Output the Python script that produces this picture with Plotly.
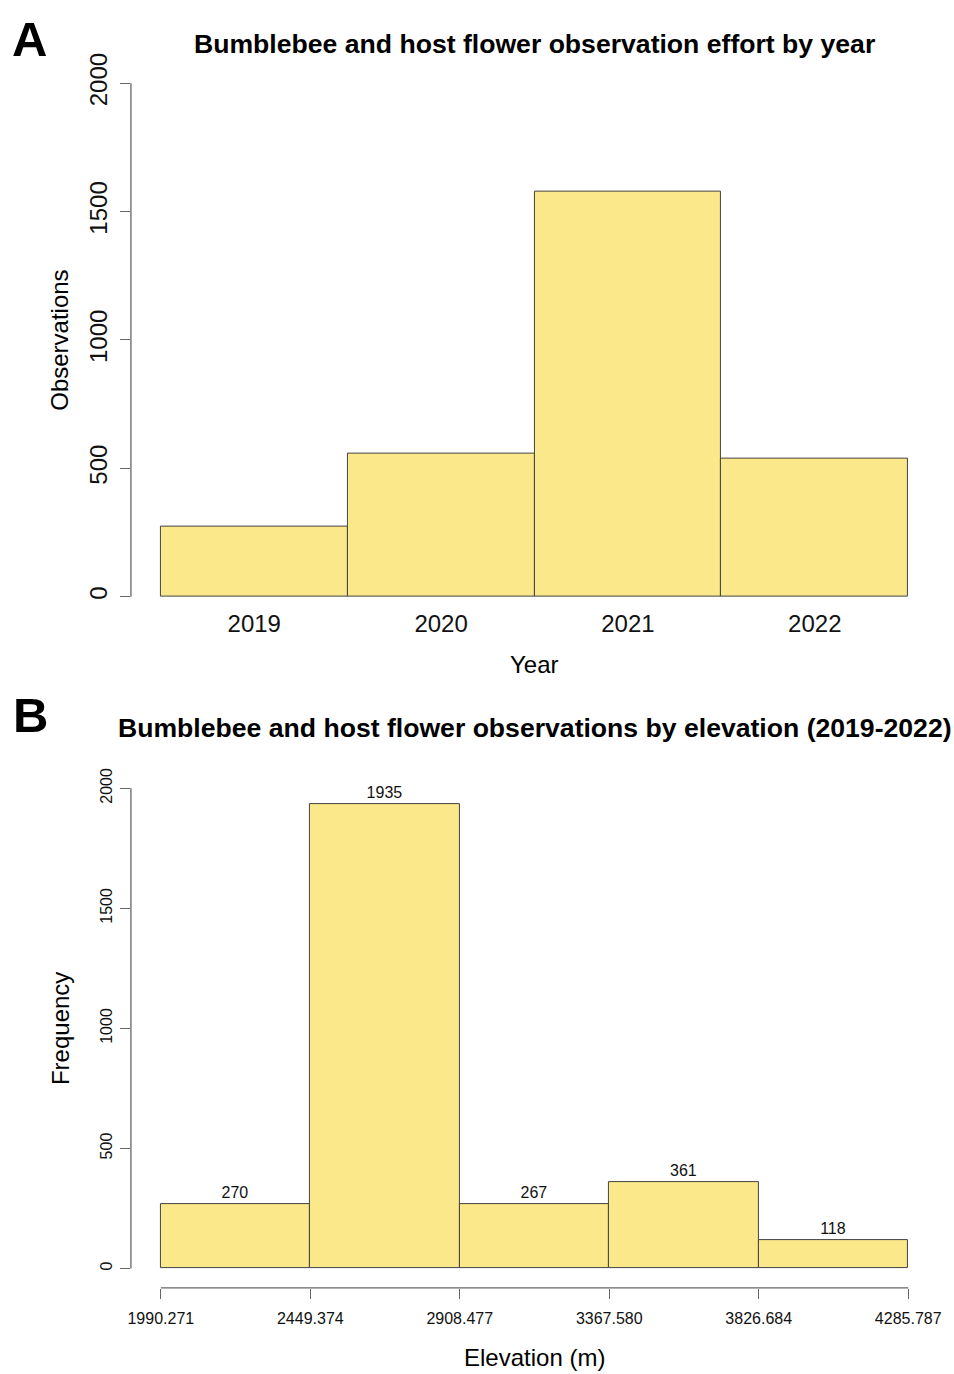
import plotly.graph_objects as go

# Panel A: observations per year
years = [2019, 2020, 2021, 2022]
obs_per_year = [274, 556, 1576, 539]

# Panel B: elevation histogram (bin breaks and counts)
elev_breaks = [1990.271, 2449.374, 2908.477, 3367.580, 3826.684, 4285.787]
elev_counts = [270, 1935, 267, 361, 118]

y_ticks = [0, 500, 1000, 1500, 2000]

W, H = 954, 1374
FILL = "#FAE88A"
EDGE = "#444444"
AXIS = "#666666"
FONT = "Liberation Sans, Arial, sans-serif"

# pixel -> paper coordinate helpers
X0, XSPAN = 2.0, 948.5
Y0, YSPAN = 10.3, 1363.5


def px_x(p):
    return (p - X0) / XSPAN


def px_y(p):
    return 1 - (p - Y0) / YSPAN


bin_centers = [(a + b) / 2 for a, b in zip(elev_breaks[:-1], elev_breaks[1:])]
bin_widths = [b - a for a, b in zip(elev_breaks[:-1], elev_breaks[1:])]

fig = go.Figure()

fig.add_trace(go.Bar(
    x=years, y=obs_per_year, width=1,
    xaxis="x", yaxis="y",
    marker=dict(color=FILL, line=dict(color=EDGE, width=1)),
    hoverinfo="x+y",
))

fig.add_trace(go.Bar(
    x=bin_centers, y=elev_counts, width=bin_widths,
    xaxis="x2", yaxis="y2",
    marker=dict(color=FILL, line=dict(color=EDGE, width=1)),
    text=elev_counts, textposition="outside", cliponaxis=False,
    textfont=dict(family=FONT, size=16, color="#111"),
    hoverinfo="x+y",
))

x_dom = [px_x(130), px_x(937.6)]

fig.update_layout(
    width=W, height=H, autosize=False,
    margin=dict(l=0, r=0, t=0, b=0),
    paper_bgcolor="white", plot_bgcolor="white",
    showlegend=False, bargap=0,
    font=dict(family=FONT, color="#111"),
    xaxis=dict(
        domain=x_dom, anchor="y",
        range=[2018.34, 2022.66],
        tickvals=years, ticktext=[str(y) for y in years],
        ticks="", showline=False, showgrid=False, zeroline=False,
        tickfont=dict(size=24, color="#111"),
        ticklabelstandoff=7,
    ),
    yaxis=dict(
        domain=[px_y(599.8), px_y(62.9)], anchor="x",
        range=[-12, 2080],
        tickvals=y_ticks, ticktext=[str(v) for v in y_ticks],
        tickangle=-90,
        ticks="outside", ticklen=10, tickcolor=AXIS, tickwidth=1.2,
        showline=False, showgrid=False, zeroline=False,
        tickfont=dict(size=24, color="#111"),
        ticklabelstandoff=3,
    ),
    xaxis2=dict(
        domain=x_dom, anchor="y2",
        range=[1898.45, 4377.61],
        tickvals=elev_breaks, ticktext=[f"{b:.3f}" for b in elev_breaks],
        ticks="outside", ticklen=10, tickcolor=AXIS, tickwidth=1.2,
        showline=False, showgrid=False, zeroline=False,
        tickfont=dict(size=16, color="#111"),
        ticklabelstandoff=6,
    ),
    yaxis2=dict(
        domain=[px_y(1287.5), px_y(769.1)], anchor="x2",
        range=[-80, 2080],
        tickvals=y_ticks, ticktext=[str(v) for v in y_ticks],
        tickangle=-90,
        ticks="outside", ticklen=10, tickcolor=AXIS, tickwidth=1.2,
        showline=False, showgrid=False, zeroline=False,
        tickfont=dict(size=16, color="#111"),
        ticklabelstandoff=2,
    ),
)

# Axis lines spanning only the tick range
fig.add_shape(type="line", xref="paper", yref="y",
              x0=px_x(130), x1=px_x(130), y0=y_ticks[0], y1=y_ticks[-1],
              line=dict(color=AXIS, width=1.3))
fig.add_shape(type="line", xref="paper", yref="y2",
              x0=px_x(130), x1=px_x(130), y0=y_ticks[0], y1=y_ticks[-1],
              line=dict(color=AXIS, width=1.3))
fig.add_shape(type="line", xref="x2", yref="paper",
              x0=elev_breaks[0], x1=elev_breaks[-1],
              y0=px_y(1287.8), y1=px_y(1287.8),
              line=dict(color=AXIS, width=1.3))

ann = []


def text(x, y, s, size, bold=False, angle=0, yanchor="middle"):
    ann.append(dict(
        x=px_x(x), y=y if yanchor == "top" else px_y(y),
        xref="paper", yref="paper",
        text=f"<b>{s}</b>" if bold else s, showarrow=False,
        xanchor="center", yanchor=yanchor, textangle=angle,
        font=dict(family=FONT, size=size, color="#000"),
    ))


# panel letters (top-anchored so the glyph box stays inside the page)
text(29, 1.0, "A", 49, bold=True, yanchor="top")
text(30, 1 - 681 / H, "B", 49, bold=True, yanchor="top")
text(534, 44, "Bumblebee and host flower observation effort by year", 26.6, bold=True)
text(534, 728, "Bumblebee and host flower observations by elevation (2019-2022)", 26.6, bold=True)
text(534, 665, "Year", 24)
text(59, 340, "Observations", 24, angle=-90)
text(59, 1028, "Frequency", 24, angle=-90)
text(534, 1357, "Elevation (m)", 24)

fig.update_layout(annotations=ann)

fig.write_html("out.html")
